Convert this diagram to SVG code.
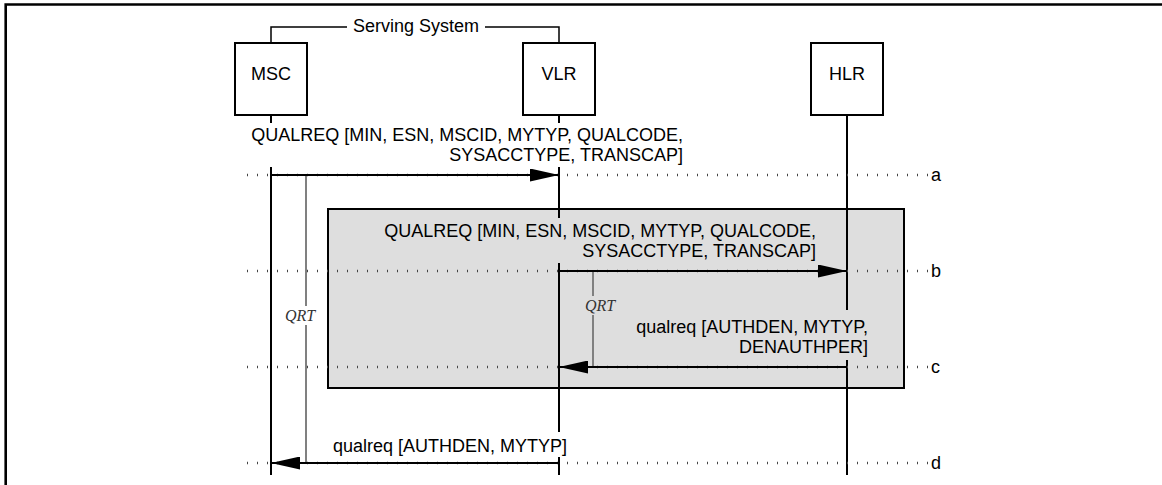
<svg xmlns="http://www.w3.org/2000/svg" width="1162" height="485" viewBox="0 0 1162 485">
<style>
.t{font-family:"Liberation Sans",Arial,sans-serif;font-size:18px;fill:#000}
.e{text-anchor:end}
.m{text-anchor:middle}
.q{font-family:"Liberation Serif","Times New Roman",serif;font-style:italic;font-size:16px;fill:#333;text-anchor:middle}
.box{fill:#fff;stroke:#000;stroke-width:2}
.life{stroke:#000;stroke-width:2;fill:none}
.dots{stroke:#444;stroke-width:2.6;stroke-dasharray:1 9;fill:none}
.msg{stroke:#000;stroke-width:1.8;fill:none}
.qrt{stroke:#808080;stroke-width:2;fill:none}
.bgw{fill:#fff}
.bgg{fill:#dedede}
</style>
<defs>
<marker id="ah" viewBox="0 0 29 13" refX="29" refY="6.5" markerWidth="29" markerHeight="13" markerUnits="userSpaceOnUse" orient="auto">
<path d="M0,0 L29,6.5 L0,13 Z" fill="#000"/>
</marker>
</defs>
<g id="frame">
<path d="M5.7,485 V4.5 H1162" fill="none" stroke="#000" stroke-width="2.6"/>
</g>
<g id="serving-system">
<path d="M271,43 V27 H347 M485,27 H559 V43" fill="none" stroke="#000" stroke-width="1.5"/>
<text class="t m" x="416" y="32">Serving System</text>
</g>
<g id="procedure-box">
<rect x="328" y="209" width="576" height="179" fill="#dedede" stroke="#000" stroke-width="2"/>
</g>
<g id="lifelines">
<line class="life" x1="271" y1="115" x2="271" y2="475"/>
<line class="life" x1="559" y1="115" x2="559" y2="475"/>
<line class="life" x1="847" y1="115" x2="847" y2="475"/>
</g>
<g id="MSC">
<rect class="box" x="235" y="43" width="72" height="72"/>
<text class="t m" x="271" y="80">MSC</text>
</g>
<g id="VLR">
<rect class="box" x="523" y="43" width="72" height="72"/>
<text class="t m" x="559" y="80">VLR</text>
</g>
<g id="HLR">
<rect class="box" x="811" y="43" width="72" height="72"/>
<text class="t m" x="847" y="80">HLR</text>
</g>
<g id="connectors">
<line class="dots" x1="247" y1="175" x2="928" y2="175"/>
<line class="dots" x1="247" y1="271" x2="928" y2="271"/>
<line class="dots" x1="247" y1="367" x2="928" y2="367"/>
<line class="dots" x1="247" y1="463" x2="928" y2="463"/>
<line class="qrt" x1="306" y1="175" x2="306" y2="463"/>
<line class="qrt" x1="593" y1="271" x2="593" y2="367"/>
<line class="msg" x1="271" y1="175" x2="559" y2="175" marker-end="url(#ah)"/>
<line class="msg" x1="559" y1="271" x2="847" y2="271" marker-end="url(#ah)"/>
<line class="msg" x1="847" y1="367" x2="559" y2="367" marker-end="url(#ah)"/>
<line class="msg" x1="559" y1="463" x2="271" y2="463" marker-end="url(#ah)"/>
</g>
<g id="labels">
<rect class="bgw" x="246" y="123" width="440" height="44"/>
<text class="t e" x="683" y="141">QUALREQ [MIN, ESN, MSCID, MYTYP, QUALCODE,</text>
<text class="t e" x="683" y="161">SYSACCTYPE, TRANSCAP]</text>
<rect class="bgg" x="379" y="218" width="440" height="45"/>
<text class="t e" x="816" y="237">QUALREQ [MIN, ESN, MSCID, MYTYP, QUALCODE,</text>
<text class="t e" x="816" y="257">SYSACCTYPE, TRANSCAP]</text>
<rect class="bgg" x="631" y="310" width="241" height="50"/>
<text class="t e" x="868" y="333">qualreq [AUTHDEN, MYTYP,</text>
<text class="t e" x="868" y="353">DENAUTHPER]</text>
<rect class="bgw" x="330" y="432" width="240" height="25"/>
<text class="t e" x="567" y="452">qualreq [AUTHDEN, MYTYP]</text>
<rect class="bgw" x="284" y="306" width="32" height="19"/>
<text class="q" x="300" y="321">QRT</text>
<rect class="bgg" x="584" y="296" width="33" height="19"/>
<text class="q" x="600" y="311">QRT</text>
<text class="t" x="931" y="181">a</text>
<text class="t" x="931" y="277">b</text>
<text class="t" x="931" y="373">c</text>
<text class="t" x="931" y="469">d</text>
</g>
</svg>
